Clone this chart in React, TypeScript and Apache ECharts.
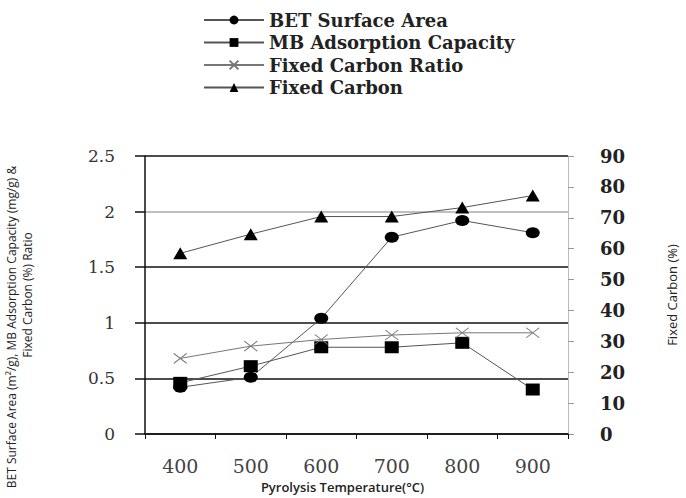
import React, { useEffect, useRef } from "react";
import * as echarts from "echarts";

const categories = ["400", "500", "600", "700", "800", "900"];
const betSurfaceArea = [0.42, 0.51, 1.04, 1.77, 1.92, 1.81];
const mbAdsorption = [0.46, 0.61, 0.78, 0.78, 0.82, 0.4];
const fixedCarbonRatio = [0.68, 0.79, 0.85, 0.89, 0.91, 0.91];
const fixedCarbon = [58.5, 64.7, 70.4, 70.4, 73.3, 77.2];

const SERIF = "'DejaVu Serif', 'Liberation Serif', serif";
const SANS = "'Open Sans', 'Liberation Sans', sans-serif";

export default function App() {
  const ref = useRef<HTMLDivElement>(null);
  useEffect(() => {
    if (!ref.current) return;
    const chart = echarts.init(ref.current, null, { renderer: "svg" });
    const lineColor = "#555";
    chart.setOption({
      animation: false,
      backgroundColor: "#fff",
      grid: { left: 145, right: 106, top: 156, bottom: 64 },
      legend: {
        orient: "vertical",
        left: 198,
        top: 6,
        itemWidth: 60,
        itemHeight: 11,
        itemGap: 4.5,
        textStyle: { fontFamily: SERIF, fontSize: 18, fontWeight: "bold", color: "#222" },
        data: [
          "BET Surface Area",
          "MB Adsorption Capacity",
          "Fixed Carbon Ratio",
          "Fixed Carbon",
        ],
      },
      graphic: [
        {
          type: "text",
          x: 11,
          y: 327,
          rotation: Math.PI / 2,
          style: {
            text: "BET Surface Area (m²/g), MB Adsorption Capacity (mg/g) &",
            font: `12px ${SANS}`,
            fill: "#222",
            align: "center",
            verticalAlign: "middle",
          },
        },
        {
          type: "text",
          x: 27,
          y: 295,
          rotation: Math.PI / 2,
          style: {
            text: "Fixed Carbon (%) Ratio",
            font: `12px ${SANS}`,
            fill: "#222",
            align: "center",
            verticalAlign: "middle",
          },
        },
      ],
      xAxis: {
        type: "category",
        data: categories,
        boundaryGap: true,
        name: "Pyrolysis Temperature(°C)",
        nameLocation: "middle",
        nameGap: 46,
        nameTextStyle: {
          fontFamily: SANS,
          fontSize: 13,
          fontWeight: 600,
          color: "#222",
          padding: [0, 28, 0, 0],
        },
        axisLine: { lineStyle: { color: "#111", width: 1.5 } },
        axisTick: { show: true, length: 5, lineStyle: { color: "#111" } },
        axisLabel: {
          margin: 22,
          fontFamily: SERIF,
          fontSize: 19,
          color: "#444",
        },
      },
      yAxis: [
        {
          type: "value",
          min: 0,
          max: 2.5,
          interval: 0.5,
          position: "left",
          axisLine: { show: true, lineStyle: { color: "#111", width: 1.5 } },
          axisTick: { show: true, length: 10, lineStyle: { color: "#111", width: 1.5 } },
          axisLabel: {
            margin: 30,
            fontFamily: SERIF,
            fontSize: 17,
            color: "#333",
          },
          splitLine: {
            show: true,
            lineStyle: {
              color: ["#111", "#111", "#111", "#111", "#aaa", "#111"],
              width: 1.5,
            },
          },
        },
        {
          type: "value",
          min: 0,
          max: 90,
          interval: 10,
          position: "right",
          name: "Fixed Carbon (%)",
          nameLocation: "middle",
          nameGap: 97,
          nameTextStyle: { fontFamily: SANS, fontSize: 13, color: "#222" },
          axisLine: { show: true, lineStyle: { color: "#bbb", width: 1 } },
          axisTick: { show: true, length: 6, lineStyle: { color: "#999" } },
          axisLabel: {
            margin: 32,
            fontFamily: SERIF,
            fontSize: 18,
            fontWeight: "bold",
            color: "#222",
          },
          splitLine: { show: false },
        },
      ],
      series: [
        {
          name: "BET Surface Area",
          type: "line",
          data: betSurfaceArea,
          yAxisIndex: 0,
          symbol: "circle",
          symbolSize: [14, 11],
          lineStyle: { color: lineColor, width: 1 },
          itemStyle: { color: "#000" },
        },
        {
          name: "MB Adsorption Capacity",
          type: "line",
          data: mbAdsorption,
          yAxisIndex: 0,
          symbol: "rect",
          symbolSize: [14, 12],
          lineStyle: { color: lineColor, width: 1 },
          itemStyle: { color: "#000" },
        },
        {
          name: "Fixed Carbon Ratio",
          type: "line",
          data: fixedCarbonRatio,
          yAxisIndex: 0,
          symbol: "path://M0,0L10,10M10,0L0,10",
          symbolSize: [13, 10],
          lineStyle: { color: "#777", width: 1 },
          itemStyle: { color: "transparent", borderColor: "#777", borderWidth: 1 },
        },
        {
          name: "Fixed Carbon",
          type: "line",
          data: fixedCarbon,
          yAxisIndex: 1,
          symbol: "triangle",
          symbolSize: [14, 12],
          lineStyle: { color: lineColor, width: 1 },
          itemStyle: { color: "#000" },
        },
      ],
    });
    return () => chart.dispose();
  }, []);
  return (
    <div
      ref={ref}
      style={{ position: "fixed", left: 0, top: 0, width: 686, height: 498 }}
    />
  );
}
